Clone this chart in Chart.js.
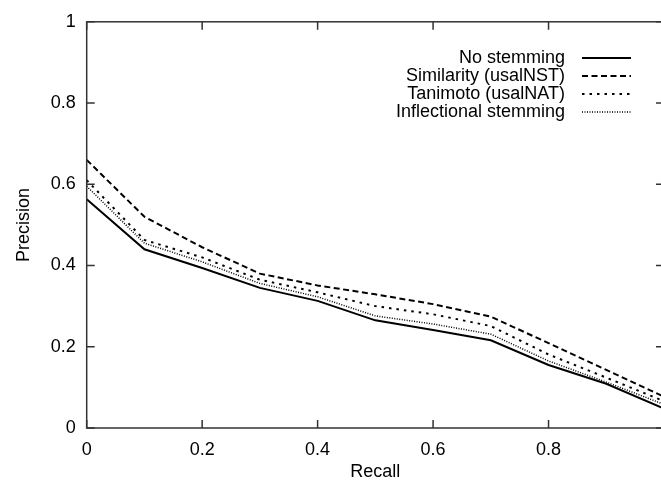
<!DOCTYPE html>
<html>
<head>
<meta charset="utf-8">
<script src="https://cdn.jsdelivr.net/npm/chart.js@4.4.1/dist/chart.umd.min.js"></script>
<style>
  html, body { margin: 0; padding: 0; background: #fff; overflow: hidden; }
  #wrap { width: 661px; height: 484px; overflow: hidden; }
</style>
</head>
<body>
<div id="wrap"><canvas id="prChart" width="700" height="484"></canvas></div>
<script>
// recall points (x axis)
const recall = [0, 0.1, 0.2, 0.3, 0.4, 0.5, 0.6, 0.7, 0.8, 0.9, 1.0];

// precision per method
const noStemming   = [0.563, 0.440, 0.394, 0.345, 0.313, 0.265, 0.241, 0.216, 0.155, 0.109, 0.048];
const similarity   = [0.660, 0.520, 0.445, 0.380, 0.351, 0.329, 0.305, 0.274, 0.209, 0.143, 0.077];
const tanimoto     = [0.610, 0.463, 0.420, 0.365, 0.334, 0.300, 0.280, 0.251, 0.181, 0.124, 0.066];
const inflectional = [0.595, 0.455, 0.409, 0.356, 0.323, 0.276, 0.256, 0.231, 0.165, 0.113, 0.058];

const seriesNames = ["No stemming", "Similarity (usalNST)", "Tanimoto (usalNAT)", "Inflectional stemming"];
const yTicks = [0, 0.2, 0.4, 0.6, 0.8, 1];

const FONT = "'Liberation Sans', Arial, Helvetica, sans-serif";

function pts(vals) {
  return vals.map((v, i) => ({ x: recall[i], y: v }));
}

// gnuplot-like frame with inward ticks on all four sides
const frameTicks = {
  id: "frameTicks",
  afterDraw(chart) {
    const { ctx, chartArea: a, scales } = chart;
    const len = 8;
    ctx.save();
    ctx.strokeStyle = "#333";
    ctx.lineWidth = 1.5;
    ctx.strokeRect(a.left, a.top, a.right - a.left, a.bottom - a.top);
    ctx.beginPath();
    scales.x.ticks.forEach(t => {
      const px = scales.x.getPixelForValue(t.value);
      ctx.moveTo(px, a.bottom); ctx.lineTo(px, a.bottom - len);
      ctx.moveTo(px, a.top); ctx.lineTo(px, a.top + len);
    });
    scales.y.ticks.forEach(t => {
      const py = scales.y.getPixelForValue(t.value);
      ctx.moveTo(a.left, py); ctx.lineTo(a.left + len, py);
      ctx.moveTo(a.right, py); ctx.lineTo(a.right - len, py);
    });
    ctx.stroke();
    ctx.restore();
  }
};

// key in the top right, text right aligned, sample to the right
const keyBox = {
  id: "keyBox",
  afterDraw(chart) {
    const ctx = chart.ctx;
    ctx.save();
    ctx.font = "18px " + FONT;
    ctx.fillStyle = "#000";
    ctx.textAlign = "right";
    ctx.textBaseline = "middle";
    chart.data.datasets.forEach((ds, i) => {
      const y = 58 + i * 18;
      ctx.fillText(ds.label, 565, y);
      ctx.beginPath();
      ctx.setLineDash(ds.borderDash || []);
      ctx.lineWidth = ds.borderWidth;
      ctx.strokeStyle = ds.borderColor;
      ctx.moveTo(582, y);
      ctx.lineTo(631, y);
      ctx.stroke();
    });
    ctx.restore();
  }
};

const fmt = v => String(+Number(v).toFixed(2));

new Chart(document.getElementById("prChart"), {
  type: "line",
  data: {
    datasets: [
      { label: seriesNames[0], data: pts(noStemming),   borderColor: "#000", borderWidth: 2,   borderDash: [] },
      { label: seriesNames[1], data: pts(similarity),   borderColor: "#000", borderWidth: 2,   borderDash: [6, 3.5] },
      { label: seriesNames[2], data: pts(tanimoto),     borderColor: "#000", borderWidth: 2,   borderDash: [2.5, 5] },
      { label: seriesNames[3], data: pts(inflectional), borderColor: "#000", borderWidth: 1.5, borderDash: [1, 1.5] }
    ]
  },
  options: {
    responsive: false,
    animation: false,
    devicePixelRatio: 1,
    elements: { point: { radius: 0 }, line: { tension: 0 } },
    layout: { padding: { left: 0, right: 36, top: 14, bottom: 0 } },
    plugins: { legend: { display: false }, tooltip: { enabled: false } },
    scales: {
      x: {
        type: "linear",
        min: 0, max: 1,
        grid: { display: false, drawTicks: false },
        border: { display: false },
        ticks: {
          stepSize: 0.2,
          padding: 11,
          color: "#000",
          font: { family: FONT, size: 18 },
          callback: v => (v >= 1 ? "" : fmt(v))
        },
        title: { display: true, text: "Recall", color: "#000", font: { family: FONT, size: 18 }, padding: { top: 0, bottom: 1 } },
        afterFit: s => { s.height = 56; }
      },
      y: {
        min: 0, max: 1,
        grid: { display: false, drawTicks: false },
        border: { display: false },
        afterBuildTicks: s => { s.ticks = yTicks.map(v => ({ value: v })); },
        ticks: {
          padding: 11,
          color: "#000",
          font: { family: FONT, size: 18 },
          callback: v => fmt(v)
        },
        title: { display: true, text: "Precision", color: "#000", font: { family: FONT, size: 18 }, padding: { top: 13, bottom: 0 } },
        afterFit: s => { s.width = 86.7; }
      }
    }
  },
  plugins: [frameTicks, keyBox]
});
</script>
</body>
</html>
